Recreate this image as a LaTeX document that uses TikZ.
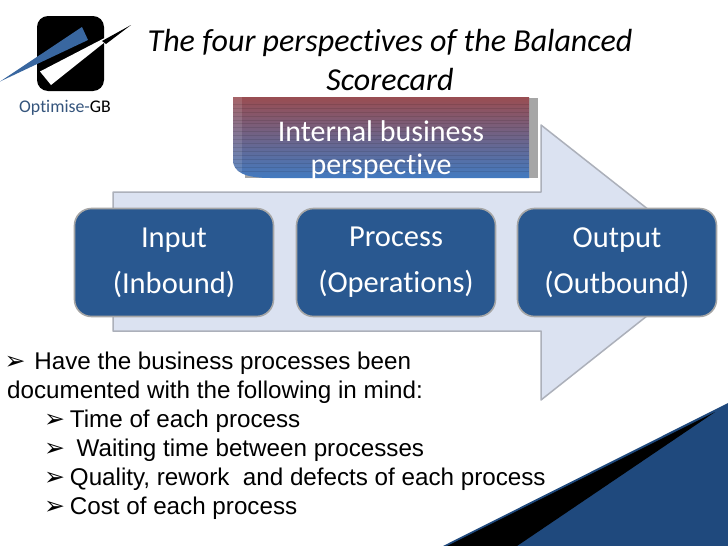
\documentclass[tikz,border=0pt]{standalone}
\usepackage{fontspec}
\setmainfont[Ligatures=NoCommon]{Carlito}
\newfontfamily\bodyfont{Liberation Sans}
\newfontfamily\symfont{DejaVu Sans}
\definecolor{boxblue}{RGB}{41,88,144}
\definecolor{arrowfill}{RGB}{219,226,241}
\definecolor{arrowedge}{RGB}{172,176,186}
\definecolor{logoblue}{RGB}{57,103,160}
\definecolor{darkblue}{RGB}{31,73,125}
\definecolor{gbtext}{RGB}{52,84,124}
\definecolor{redtop}{RGB}{153,77,82}
\definecolor{bluebot}{RGB}{66,122,192}
\tikzset{
  procbox/.style={rounded corners=17pt,fill=boxblue,draw=gray!70,line width=1.6pt,
    minimum width=199pt,minimum height=108pt,inner sep=0pt,text=white,align=center,
    font=\fontsize{30.5}{46}\selectfont,execute at begin node={\rule{0pt}{28pt}}},
  bullettext/.style={anchor=west,inner sep=0pt,font=\bodyfont\fontsize{24.2}{24.2}\selectfont,text=black}
}
\newcommand{\mk}{\makebox[16.5pt][l]{\hspace{-2.5pt}\symfont\fontsize{25}{25}\selectfont ➢}}
\begin{document}
\begin{tikzpicture}[x=1pt,y=-1pt]
\useasboundingbox (0,0) rectangle (728,546);
\fill[white] (0,0) rectangle (728,546);
% logo
\fill[black,rounded corners=11pt] (37,16) rectangle (104,91);
\fill[logoblue] (0,81.5) -- (82,27) -- (88,40) -- cycle;
\fill[white] (40,71.5) -- (51,85) -- (120,30) -- cycle;
\fill[black] (102,41) -- (131,25) -- (106,44) -- cycle;
\node[anchor=center,inner sep=0pt,font=\fontsize{17.8}{17.8}\selectfont] (logotext) at (65,107.5) {\textcolor{gbtext}{Optimise-}GB};
% title
\node[anchor=center,inner sep=0pt,align=center,font=\itshape\fontsize{32}{39}\selectfont] (title) at (390,60) {The four perspectives of the Balanced\\Scorecard};
% big arrow
\path[fill=arrowfill,draw=arrowedge,line width=1.5pt,line join=round]
  (113,192) -- (541,192) -- (541,125) -- (715,262) -- (541,400) -- (541,331) -- (113,331) -- cycle;
% internal box
\fill[gray!70] (245,98) rectangle (537.5,178);
\begin{scope}
\clip (233,97) -- (529,97) -- (529,178) -- (270,178) .. controls (245,178) and (233,172) .. (233,160) -- cycle;
\shade[top color=redtop,bottom color=bluebot,middle color=redtop!50!bluebot,shading angle=0]
  (233,97) rectangle (529,178);
\fill[white,opacity=.13] (233,97) rectangle (242,172);
\foreach \yy in {104,108,112,116,120,123,127,131,135,139,143,147,151,155,159,163,167,171}
  \draw[black,opacity=.10,line width=.5pt] (233,\yy) -- (529,\yy);
\end{scope}
\node[inner sep=0pt,align=center,text=white,font=\fontsize{30}{33}\selectfont] (internal) at (381,150) {Internal business\\perspective};
% process boxes
\node[procbox] (input) at (174,262.5) {Input\\(Inbound)};
\node[procbox] (process) at (396,262.5) {Process\\(Operations)};
\node[procbox] (output) at (617,262.5) {Output\\(Outbound)};
% corner
\fill[darkblue] (443,546) -- (728,403) -- (728,546) -- cycle;
\fill[black] (447,546) -- (715,412) -- (517,546) -- cycle;
% text
\node[bullettext] (l1) at (7,363) {\mk\hspace{4pt}{} Have the business processes been};
\node[bullettext] (l2) at (7,392) {documented with the following in mind:};
\node[bullettext] (l3) at (46.5,421) {\mk{} Time of each process};
\node[bullettext] (l4) at (46.5,450) {\mk{}\ \ Waiting time between processes};
\node[bullettext] (l5) at (46.5,479) {\mk{} Quality, rework\ \ and defects of each process};
\node[bullettext] (l6) at (46.5,508) {\mk{} Cost of each process};
\end{tikzpicture}
\end{document}
